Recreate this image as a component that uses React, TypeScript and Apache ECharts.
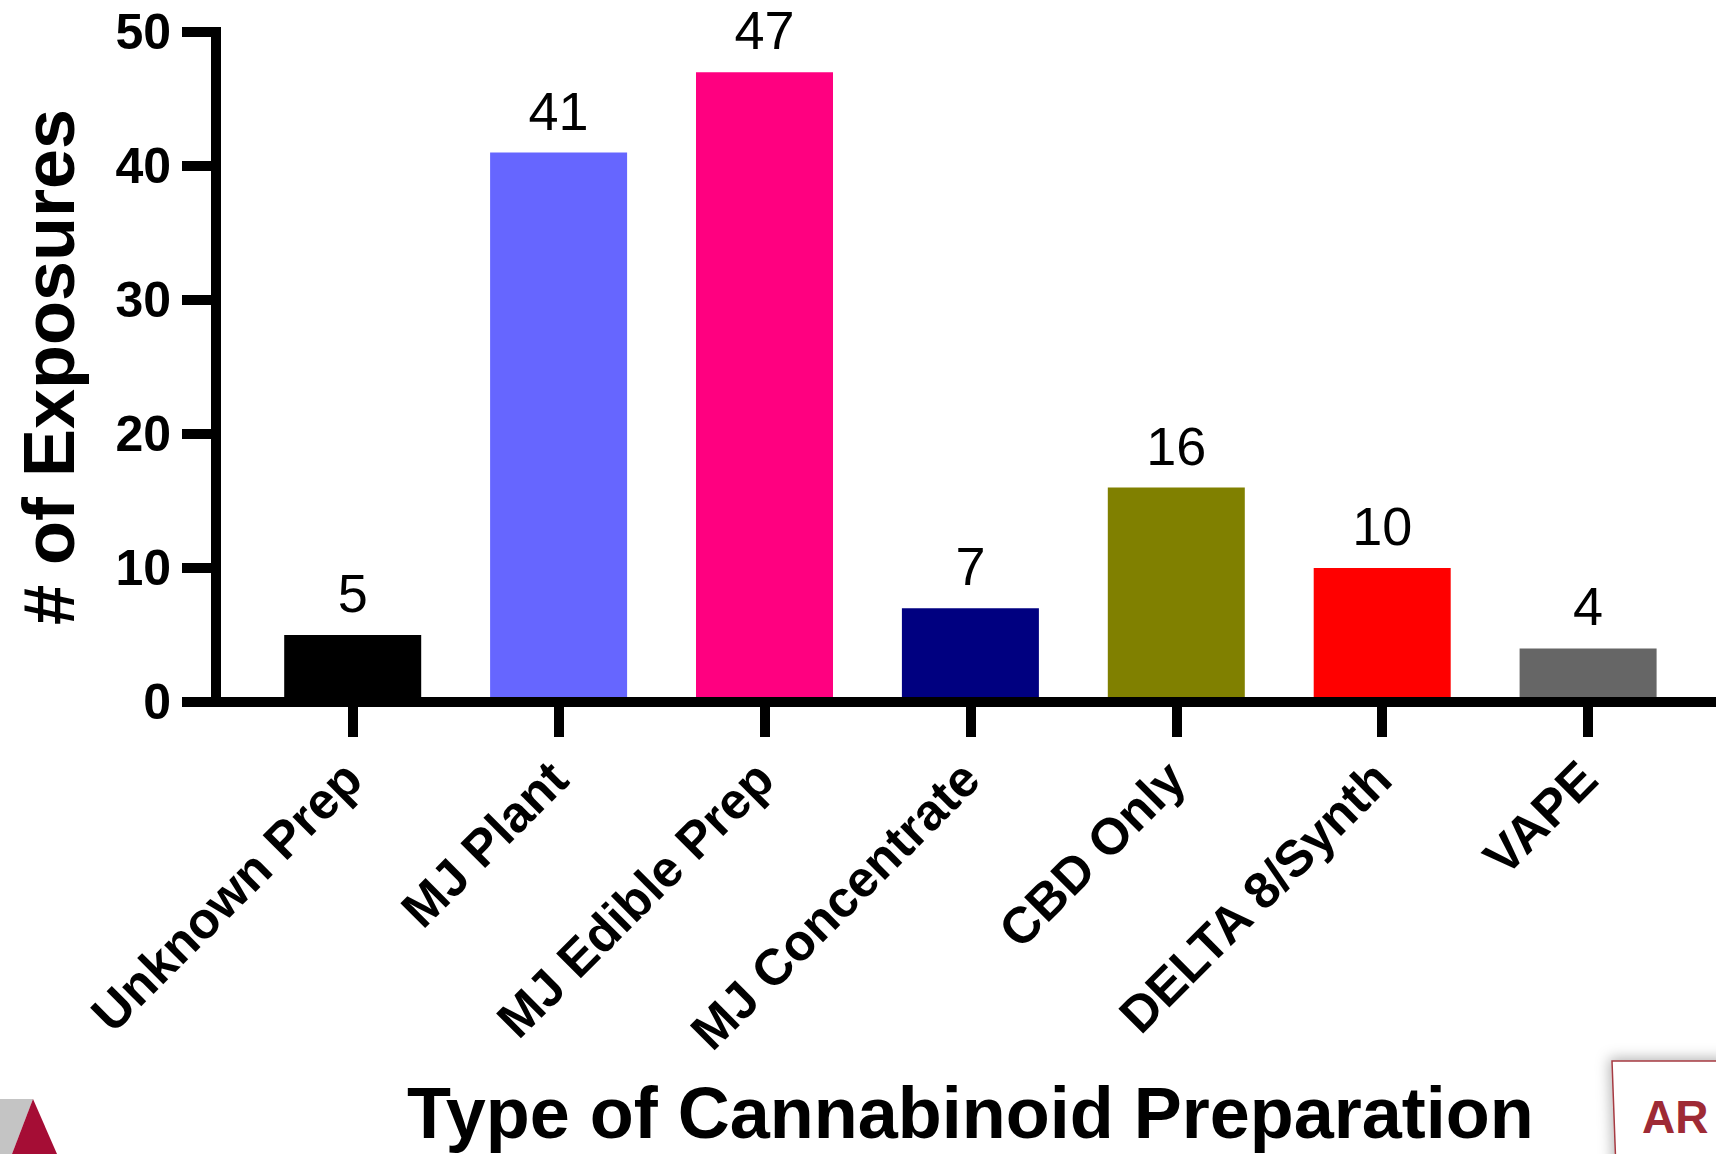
import React, { useEffect, useRef } from "react";
import * as echarts from "echarts";

const categories = [
  "Unknown Prep",
  "MJ Plant",
  "MJ Edible Prep",
  "MJ Concentrate",
  "CBD Only",
  "DELTA 8/Synth",
  "VAPE",
];
const values = [5, 41, 47, 7, 16, 10, 4];
const barColors = ["#000000", "#6666FF", "#FF0080", "#000080", "#808000", "#FF0000", "#666666"];
const yMin = 0;
const yMax = 50;
const yInterval = 10;
const xTitle = "Type of Cannabinoid Preparation";
const yTitle = "# of Exposures";

const FONT = "'Liberation Sans', Arial, sans-serif";

export default function App() {
  const ref = useRef<HTMLDivElement>(null);
  useEffect(() => {
    document.body.style.margin = "0";
    const chart = echarts.init(ref.current!, null, { renderer: "svg" });
    const option: any = {
      animation: false,
      backgroundColor: "#ffffff",
      grid: [
        { left: 249.75, width: 1441.3, top: 32, height: 670, containLabel: false, outerBoundsMode: "none" },
        { left: 216, right: -20, top: 600, height: 102, containLabel: false, outerBoundsMode: "none" },
      ],
      xAxis: [
        {
          type: "category",
          gridIndex: 0,
          data: categories,
          axisLine: { show: false },
          axisTick: { show: true, alignWithLabel: true, length: 35, lineStyle: { color: "#000", width: 10 } },
          axisLabel: {
            interval: 0,
            rotate: 45,
            margin: 68,
            fontSize: 51,
            fontWeight: "bold",
            color: "#000",
            fontFamily: FONT,
          },
          name: xTitle,
          nameLocation: "middle",
          nameGap: 375,
          nameMoveOverlap: false,
          nameTextStyle: { fontSize: 72, fontWeight: "bold", color: "#000", fontFamily: FONT },
          z: 10,
        },
        {
          type: "value",
          gridIndex: 1,
          axisLine: { show: true, onZero: false, lineStyle: { color: "#000", width: 10, cap: "square" } },
          axisTick: { show: false },
          axisLabel: { show: false },
          splitLine: { show: false },
          z: 10,
        },
      ],
      yAxis: [
        {
          type: "value",
          gridIndex: 0,
          min: yMin,
          max: yMax,
          interval: yInterval,
          offset: 33.75,
          axisLine: { show: true, lineStyle: { color: "#000", width: 10, cap: "square" } },
          axisTick: { show: true, length: 34, lineStyle: { color: "#000", width: 10 } },
          axisLabel: { margin: 45, fontSize: 50, fontWeight: "bold", color: "#000", fontFamily: FONT },
          splitLine: { show: false },
          name: yTitle,
          nameLocation: "middle",
          nameGap: 131,
          nameMoveOverlap: false,
          nameTextStyle: { fontSize: 72, fontWeight: "bold", color: "#000", fontFamily: FONT },
          z: 10,
        },
        { type: "value", gridIndex: 1, show: false },
      ],
      series: [
        {
          type: "bar",
          xAxisIndex: 0,
          yAxisIndex: 0,
          barWidth: 137,
          data: values.map((v, i) => ({ value: v, itemStyle: { color: barColors[i] } })),
          label: {
            show: true,
            position: "top",
            distance: 15,
            fontSize: 54,
            color: "#000",
            fontFamily: FONT,
          },
          z: 2,
        },
      ],
      graphic: [
        {
          type: "polygon",
          shape: { points: [[0, 1099], [33, 1099], [12, 1154], [0, 1154]] },
          style: { fill: "#c4c4c4" },
        },
        {
          type: "polygon",
          shape: { points: [[33, 1099], [57, 1154], [12, 1154]] },
          style: { fill: "#a50d35" },
        },
        {
          type: "polygon",
          shape: { points: [[1612, 1061], [1730, 1061], [1730, 1170], [1616, 1170]] },
          style: {
            fill: "#ffffff",
            stroke: "#a53a42",
            lineWidth: 1.5,
            shadowBlur: 14,
            shadowColor: "rgba(0,0,0,0.3)",
            shadowOffsetX: -2,
            shadowOffsetY: -2,
          },
        },
        {
          type: "text",
          x: 1642,
          y: 1094,
          style: {
            text: "AR",
            fill: "#9e2a35",
            fontSize: 46,
            fontWeight: "bold",
            fontFamily: FONT,
            verticalAlign: "top",
            textVerticalAlign: "top",
          },
        },
      ],
    };
    chart.setOption(option);
    return () => chart.dispose();
  }, []);
  return <div ref={ref} style={{ width: 1716, height: 1154 }} />;
}
